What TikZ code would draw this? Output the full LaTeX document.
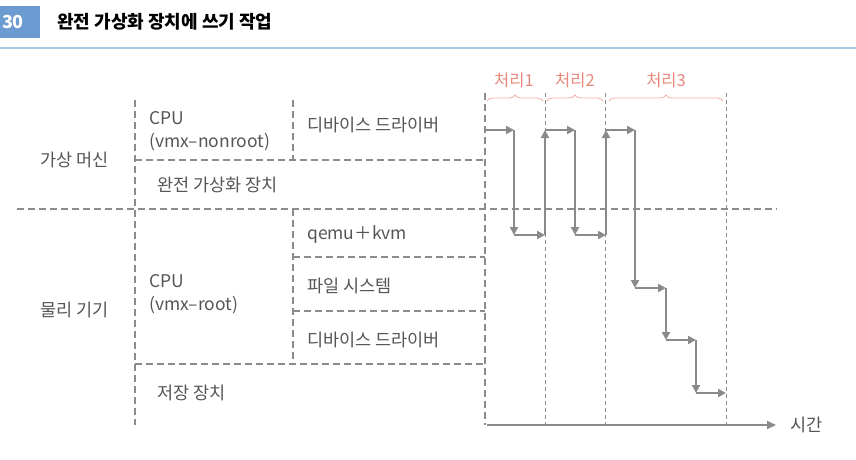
\documentclass[tikz,border=0pt]{standalone}
\usepackage{fontspec}
\setmainfont{Noto Sans CJK KR}
\usetikzlibrary{arrows.meta,decorations.pathreplacing}
\definecolor{txtcol}{HTML}{555555}
\definecolor{lncol}{HTML}{8C8C8C}
\definecolor{arrcol}{HTML}{8A8A8A}
\definecolor{lblcol}{HTML}{E8877C}
\definecolor{brcol}{HTML}{F2AFA6}
\definecolor{hdrcol}{HTML}{6B9BD1}
\definecolor{hlncol}{HTML}{A9C8EA}
\begin{document}
\begin{tikzpicture}[x=1pt,y=-1pt,
  lbl/.style={anchor=west,inner sep=0pt,text=txtcol,align=left,font=\fontsize{17.5}{23}\selectfont},
  sline/.style={draw=lncol,line width=1.6pt,dash pattern=on 7pt off 4pt},
  tline/.style={draw=lncol,line width=0.8pt,dash pattern=on 4pt off 3pt},
  flow/.style={draw=arrcol,line width=2pt,-{Triangle[length=8pt,width=8pt]}},
  brc/.style={draw=brcol,line width=0.8pt,decorate,decoration={brace,amplitude=6pt}},
  ptag/.style={text=lblcol,inner sep=0pt,font=\fontsize{16.5}{18}\selectfont}]
\useasboundingbox (0,0) rectangle (856,460);
% header
\fill[hdrcol] (0,6) rectangle (40,38);
\node[text=white,inner sep=0pt,font=\fontsize{18}{20}\selectfont\bfseries] (num) at (13,22) {30};
\node[anchor=west,inner sep=0pt,font=\fontsize{18}{20}\selectfont\bfseries] (title) at (57,22) {완전 가상화 장치에 쓰기 작업};
\draw[hlncol,line width=1.5pt] (0,48) -- (856,48);
% structure lines
\draw[sline] (135,100) -- (135,425);
\draw[sline] (293,100) -- (293,160);
\draw[sline] (135,160) -- (485,160);
\draw[sline] (17,209) -- (777,209);
\draw[sline] (293,209) -- (293,364);
\draw[sline] (293,257) -- (485,257);
\draw[sline] (293,311) -- (485,311);
\draw[sline] (135,364) -- (485,364);
\draw[sline] (485,93) -- (485,425);
% thin time dividers
\draw[tline] (545,93) -- (545,425);
\draw[tline] (605,93) -- (605,425);
\draw[tline] (726,93) -- (726,425);
% labels
\node[lbl] (vm) at (40,160) {가상 머신};
\node[lbl] (pm) at (40,310) {물리 기기};
\node[lbl] (vcpu) at (149,131.5) {CPU\\(vmx–nonroot)};
\node[lbl] (vdrv) at (307,125) {디바이스 드라이버};
\node[lbl] (fvd) at (157,185) {완전 가상화 장치};
\node[lbl] (pcpu) at (149,294.5) {CPU\\(vmx–root)};
\node[lbl] (qemu) at (307,235) {qemu＋kvm};
\node[lbl] (fs) at (307,286) {파일 시스템};
\node[lbl] (pdrv) at (307,340) {디바이스 드라이버};
\node[lbl] (stor) at (157,393) {저장 장치};
\node[lbl] (time) at (790,425) {시간};
% braces and phase labels
\draw[brc] (487,101) -- (543,101);
\draw[brc] (547,101) -- (603,101);
\draw[brc] (609,101) -- (723,101);
\node[ptag] (ph1) at (514,80) {처리1};
\node[ptag] (ph2) at (575,80) {처리2};
\node[ptag] (ph3) at (666,80) {처리3};
% time axis
\coordinate (t0) at (487,425);
\coordinate (t1) at (776,425);
\draw[draw=arrcol,line width=1.8pt,-{Triangle[length=9pt,width=8pt]}] (t0) -- (t1);
% flow path
\coordinate (p0) at (485,130);
\coordinate (p1) at (514,130);
\coordinate (p2) at (514,235);
\coordinate (p3) at (545,235);
\coordinate (p4) at (545,130);
\coordinate (p5) at (575,130);
\coordinate (p6) at (575,235);
\coordinate (p7) at (606,235);
\coordinate (p8) at (606,130);
\coordinate (p9) at (635,130);
\coordinate (p10) at (635,288);
\coordinate (p11) at (666,288);
\coordinate (p12) at (666,340);
\coordinate (p13) at (696,340);
\coordinate (p14) at (696,393);
\coordinate (p15) at (726,393);
\foreach \a/\b in {p0/p1,p1/p2,p2/p3,p3/p4,p4/p5,p5/p6,p6/p7,p7/p8,p8/p9,p9/p10,p10/p11,p11/p12,p12/p13,p13/p14,p14/p15}
  \draw[flow] (\a) -- (\b);
\end{tikzpicture}
\end{document}
